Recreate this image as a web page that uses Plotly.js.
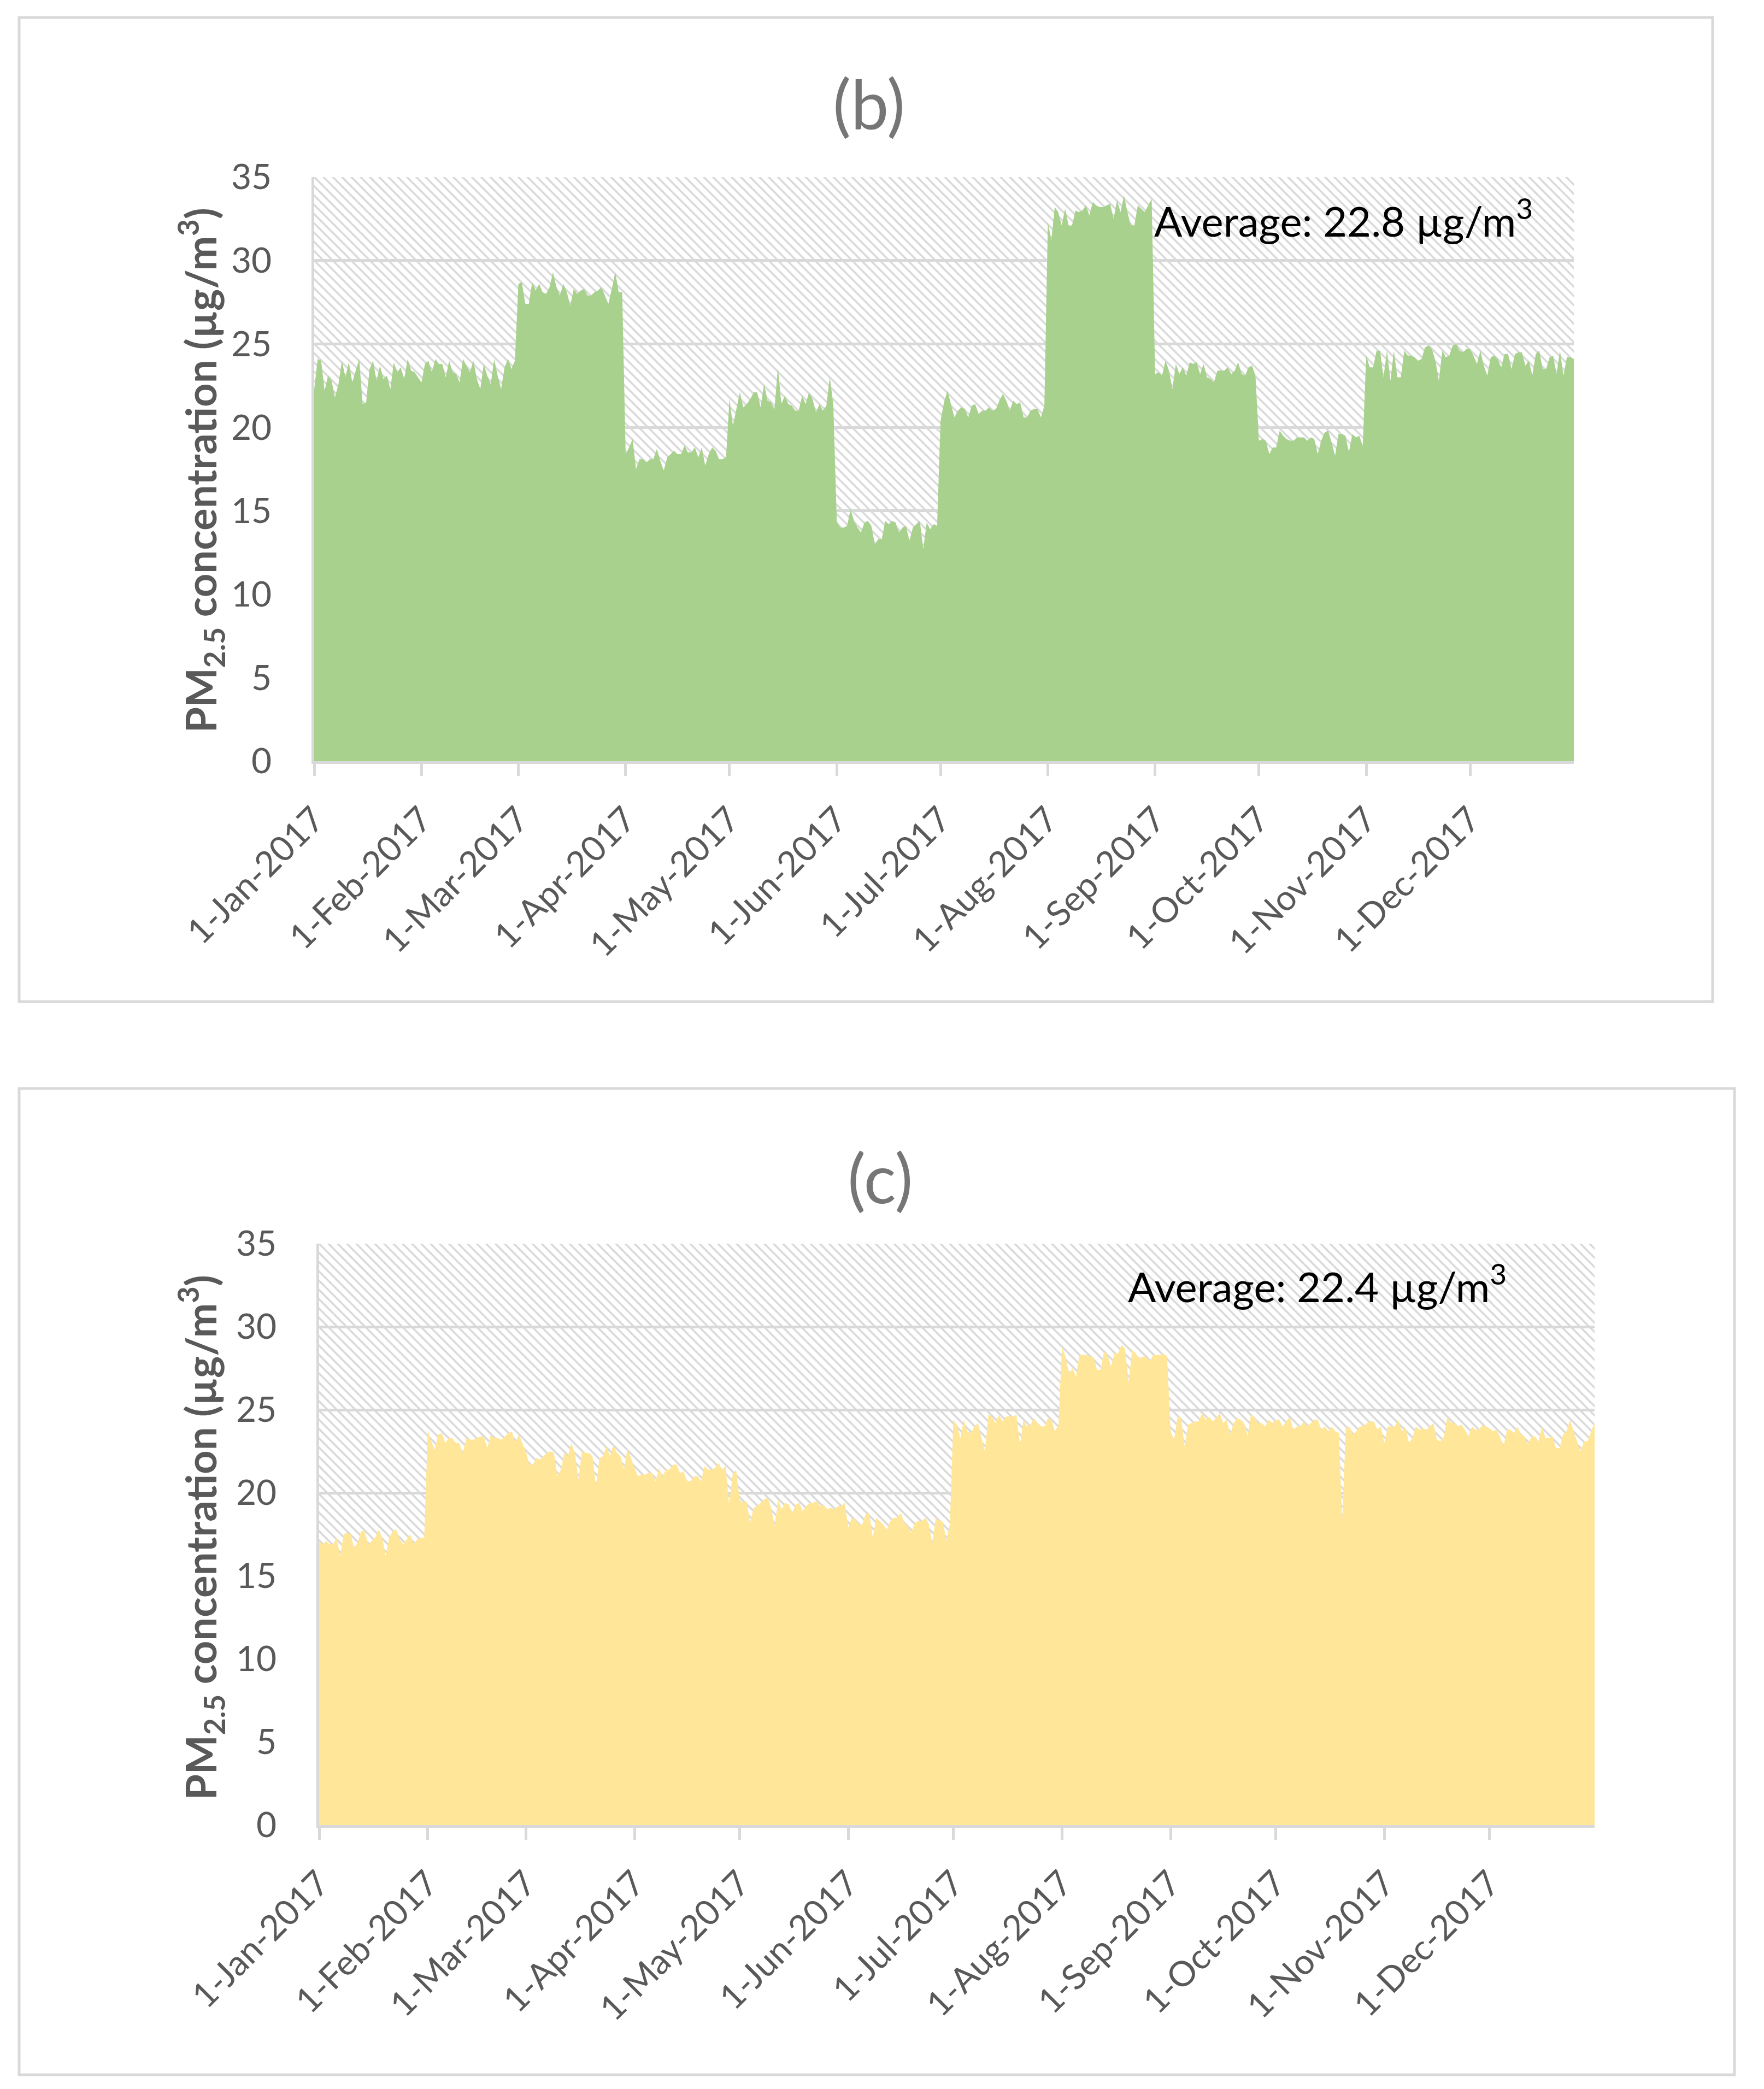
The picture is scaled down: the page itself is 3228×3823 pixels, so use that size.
<!DOCTYPE html>
<html>
<head>
<meta charset="utf-8">
<script src="https://cdn.plot.ly/plotly-3.0.1.min.js"></script>
<style>
html,body{margin:0;padding:0;background:#fff;}
#chart{width:3228px;height:3823px;}
</style>
</head>
<body>
<div id="chart"></div>
<script>
// ---------- DATA ----------
var startDate = [2017, 0, 1];
var tickDates = ['2017-01-01','2017-02-01','2017-03-01','2017-04-01','2017-05-01','2017-06-01',
                 '2017-07-01','2017-08-01','2017-09-01','2017-10-01','2017-11-01','2017-12-01'];
var tickLabels = ['1-Jan-2017','1-Feb-2017','1-Mar-2017','1-Apr-2017','1-May-2017','1-Jun-2017',
                  '1-Jul-2017','1-Aug-2017','1-Sep-2017','1-Oct-2017','1-Nov-2017','1-Dec-2017'];
var yTicks = [0, 5, 10, 15, 20, 25, 30, 35];

// Panel (b) daily PM2.5 (µg/m3)
var pmB = [
 // Jan
 22.3,24.1,24.0,22.2,23.1,22.8,21.8,22.6,24.0,23.0,23.9,22.7,23.4,24.1,21.4,21.5,23.5,24.0,22.8,23.7,22.9,23.1,22.3,23.9,23.3,23.6,22.9,24.1,23.4,23.3,23.0,
 // Feb
 22.7,23.8,24.0,23.3,24.1,23.8,23.8,23.0,24.0,23.3,23.2,22.7,24.1,23.7,23.3,24.0,22.9,22.3,23.8,23.1,22.6,24.1,23.1,22.3,23.6,24.1,23.5,24.0,
 // Mar
 28.6,28.7,27.4,27.4,28.7,28.2,28.6,28.1,28.0,28.4,29.3,28.4,27.9,28.6,28.1,27.3,28.3,28.0,28.2,28.3,27.9,27.9,28.1,28.2,28.4,27.9,27.4,28.3,29.3,28.1,28.1,
 // Apr
 18.4,18.8,19.3,17.5,18.1,18.1,17.9,18.1,18.1,18.7,18.0,17.4,18.2,18.4,18.6,18.4,18.4,18.9,18.5,18.5,18.8,18.2,18.8,17.7,18.4,18.8,18.6,18.1,18.1,18.2,
 // May
 21.7,20.1,21.1,22.1,21.2,21.4,21.7,22.1,22.1,21.2,22.6,21.6,21.5,21.1,23.6,21.4,21.9,21.4,21.3,21.0,21.0,21.9,21.4,22.1,21.7,20.9,21.4,21.0,21.3,23.0,21.4,
 // Jun
 14.4,14.0,14.0,14.1,15.1,14.4,14.0,13.7,14.3,14.4,14.1,13.0,13.3,13.3,14.4,14.2,14.4,14.3,13.7,14.0,14.1,13.2,14.0,14.2,14.4,12.7,14.3,13.9,14.2,14.1,
 // Jul
 20.4,21.5,22.2,21.4,20.6,21.0,21.2,21.1,20.6,21.3,21.4,20.8,21.0,21.0,21.2,21.0,21.1,21.6,22.0,21.6,21.0,21.6,21.4,21.5,20.6,20.6,21.0,21.1,21.1,20.6,21.3,
 // Aug
 32.3,31.2,33.2,32.9,32.1,33.1,32.1,32.1,33.0,32.9,33.0,33.3,32.7,33.5,33.3,33.2,33.2,33.3,33.4,32.5,33.6,32.9,33.9,32.9,32.1,32.1,33.3,33.1,32.9,33.3,33.7,
 // Sep
 23.2,23.3,23.1,24.0,23.4,22.3,23.8,23.2,23.6,23.1,23.9,23.8,23.9,23.2,23.8,23.0,22.9,22.7,23.4,23.4,23.4,23.6,23.2,23.4,23.9,23.2,23.1,23.6,23.7,23.1,
 // Oct
 19.2,19.3,19.2,18.4,18.8,18.8,19.8,19.5,19.3,19.2,19.2,19.4,19.4,19.4,19.2,19.4,19.3,18.4,19.2,19.7,19.8,19.1,18.3,19.6,19.6,19.5,18.5,19.6,19.4,19.5,18.9,
 // Nov
 24.3,23.6,23.6,24.6,24.6,23.0,24.6,22.8,24.6,23.0,23.0,24.6,24.3,24.3,24.2,24.0,24.1,24.8,24.9,24.7,24.0,22.8,24.6,24.2,24.3,24.9,25.0,24.6,24.5,24.7,
 // Dec
 24.7,24.3,23.8,24.6,23.7,23.1,24.2,24.3,24.1,23.6,24.4,24.4,23.5,24.4,24.5,24.5,23.7,24.0,23.1,24.4,24.6,23.5,23.5,24.2,24.3,23.2,24.6,23.1,24.2,24.2,24.1
];

// Panel (c) daily PM2.5 (µg/m3)
var pmC = [
 // Jan
 17.1,16.9,17.1,16.9,16.9,17.3,16.2,17.5,17.6,17.5,16.7,17.0,17.7,17.7,16.9,17.1,17.3,17.8,17.3,16.2,17.3,17.7,17.8,17.2,16.9,17.2,17.5,16.9,17.2,17.3,17.3,
 // Feb
 23.8,23.1,22.6,23.5,23.6,23.0,23.3,23.3,23.0,23.0,22.4,23.3,23.2,23.2,23.3,23.4,23.4,22.7,23.5,23.3,23.3,23.2,23.4,23.6,23.7,23.0,23.5,23.0,
 // Mar
 22.5,21.7,21.7,22.1,22.0,22.2,22.4,22.5,22.4,21.0,21.4,22.4,22.2,23.0,22.4,20.8,22.5,22.4,22.4,22.2,20.4,22.1,22.2,22.8,22.2,22.9,22.4,22.2,21.4,22.7,22.1,
 // Apr
 21.5,21.0,21.1,21.1,21.2,21.2,20.7,21.5,21.0,21.4,21.4,21.7,21.7,21.2,21.3,20.7,20.7,21.0,21.0,20.7,21.6,21.4,21.4,21.5,21.8,21.4,21.6,19.3,21.1,21.4,
 // May
 19.6,19.4,19.5,18.2,19.1,19.2,19.4,19.6,19.7,19.1,18.0,19.6,19.0,19.4,19.3,18.8,19.3,19.4,18.9,19.2,19.4,19.4,19.5,19.2,19.3,19.0,19.1,19.0,19.2,19.2,19.4,
 // Jun
 17.9,18.5,18.4,18.1,18.1,18.7,18.8,17.3,18.5,18.3,18.1,17.8,18.3,18.5,18.5,18.8,18.2,18.0,17.6,18.2,18.3,18.3,18.5,18.1,17.0,18.5,18.3,18.3,17.1,18.1,
 // Jul
 24.4,24.1,23.3,24.4,23.7,23.6,24.0,24.2,23.3,22.5,24.7,24.6,24.2,24.7,24.3,24.6,24.6,24.6,24.7,22.9,24.4,24.0,24.1,24.5,24.2,24.0,24.0,24.5,24.4,23.7,24.1,
 // Aug
 28.8,28.2,27.2,27.5,27.0,28.3,28.3,28.3,28.2,28.2,27.4,27.4,28.5,28.3,27.6,28.4,28.4,28.9,28.7,26.6,28.6,28.4,28.1,28.2,28.2,27.9,28.3,28.3,28.3,28.4,28.2,
 // Sep
 23.7,23.2,24.6,24.5,22.8,24.1,24.2,24.3,24.3,24.8,24.4,24.6,24.3,24.5,24.8,24.2,24.4,23.5,24.2,24.5,24.4,24.2,23.4,24.8,24.5,24.2,24.2,24.0,24.4,24.2,
 // Oct
 24.4,24.4,24.0,24.3,24.6,23.8,24.0,24.0,24.3,24.0,24.2,24.4,24.4,23.8,24.0,23.7,24.0,23.7,23.6,18.4,23.9,24.0,23.5,23.7,24.0,24.0,24.2,24.3,24.3,23.8,24.0,
 // Nov
 23.0,24.0,24.0,24.0,24.4,23.7,24.0,23.0,23.3,24.0,23.8,23.9,23.8,24.0,24.2,23.2,23.1,23.4,24.6,24.2,24.2,24.0,24.1,23.8,23.4,24.0,23.8,23.8,24.1,24.0,
 // Dec
 23.9,23.7,23.8,23.4,22.8,23.8,23.8,23.6,24.0,23.5,23.4,22.9,23.4,23.4,23.1,24.0,23.3,23.3,23.4,22.7,22.7,23.5,23.7,24.4,23.7,23.1,22.5,23.1,23.1,23.7,24.2
];

var panelTitles = ['(b)', '(c)'];
var avgLabels = ['Average: 22.8 µg/m<sup>3</sup>', 'Average: 22.4 µg/m<sup>3</sup>'];
var yTitle = '<b>PM<sub>2.5</sub> concentration (µg/m<sup>3</sup>)</b>';

// ---------- BUILD ----------
function dayDates(n) {
  var out = [];
  for (var i = 0; i < n; i++) {
    var d = new Date(Date.UTC(startDate[0], startDate[1], startDate[2] + i));
    out.push(d.toISOString().slice(0, 10));
  }
  return out;
}
var datesB = dayDates(pmB.length);
var datesC = dayDates(pmC.length);

var W = 3228, H = 3823;
function px(x) { return x / W; }
function py(y) { return 1 - y / H; }

var GRID = '#d9d9d9';
var TXT = '#595959';
var FONT = 'Lato, "Open Sans", sans-serif';

function hatchTrace(dates, xa, ya) {
  return {
    x: [dates[0], dates[dates.length - 1]],
    y: [35, 35],
    xaxis: xa, yaxis: ya,
    type: 'scatter', mode: 'none',
    fill: 'tozeroy',
    fillcolor: 'rgba(255,255,255,0)',
    fillpattern: {shape: '\\', fgcolor: '#d9d9d9', bgcolor: 'rgba(255,255,255,0)', size: 12, solidity: 0.3},
    hoverinfo: 'skip', showlegend: false
  };
}
function areaTrace(dates, vals, color, xa, ya) {
  return {
    x: dates, y: vals, xaxis: xa, yaxis: ya,
    type: 'scatter', mode: 'lines',
    line: {width: 0, color: color},
    fill: 'tozeroy', fillcolor: color,
    showlegend: false
  };
}

var data = [
  hatchTrace(datesB, 'x', 'y'),
  areaTrace(datesB, pmB, '#a9d18e', 'x', 'y'),
  hatchTrace(datesC, 'x2', 'y2'),
  areaTrace(datesC, pmC, '#ffe699', 'x2', 'y2')
];

function xAxis(domain, anchor, dates) {
  return {
    domain: domain, anchor: anchor, type: 'date',
    range: [dates[0], dates[dates.length - 1]],
    tickmode: 'array', tickvals: tickDates, ticktext: tickLabels,
    tickangle: -45,
    ticks: 'outside', ticklen: 22, tickwidth: 5, tickcolor: GRID,
    ticklabelstandoff: 16,
    showline: true, linecolor: GRID, linewidth: 5,
    showgrid: false, zeroline: false,
    tickfont: {family: FONT, size: 64, color: TXT}
  };
}
function yAxis(domain, anchor) {
  return {
    domain: domain, anchor: anchor,
    range: [0, 35], tickmode: 'array', tickvals: yTicks,
    showgrid: true, gridcolor: GRID, gridwidth: 5,
    showline: true, linecolor: GRID, linewidth: 5,
    zeroline: false, ticks: '',
    ticklabelstandoff: 60,
    tickfont: {family: FONT, size: 64, color: TXT}
  };
}

var layout = {
  width: W, height: H,
  margin: {l: 0, r: 0, t: 0, b: 0},
  paper_bgcolor: '#ffffff', plot_bgcolor: 'rgba(0,0,0,0)',
  font: {family: FONT},
  xaxis: xAxis([px(575), px(2880)], 'y', datesB),
  yaxis: yAxis([py(1393), py(324)], 'x'),
  xaxis2: xAxis([px(584), px(2918)], 'y2', datesC),
  yaxis2: yAxis([py(3340), py(2276)], 'x2'),
  shapes: [
    {type: 'rect', xref: 'paper', yref: 'paper', x0: px(35), x1: px(3134), y0: py(1833), y1: py(32),
     line: {color: GRID, width: 5}, fillcolor: 'rgba(0,0,0,0)', layer: 'below'},
    {type: 'rect', xref: 'paper', yref: 'paper', x0: px(35), x1: px(3174), y0: py(3797), y1: py(1992),
     line: {color: GRID, width: 5}, fillcolor: 'rgba(0,0,0,0)', layer: 'below'}
  ],
  annotations: [
    {text: panelTitles[0], xref: 'paper', yref: 'paper', x: px(1590), y: py(188), showarrow: false,
     xanchor: 'center', yanchor: 'middle', font: {family: FONT, size: 124, color: '#767676'}},
    {text: panelTitles[1], xref: 'paper', yref: 'paper', x: px(1611), y: py(2154), showarrow: false,
     xanchor: 'center', yanchor: 'middle', font: {family: FONT, size: 124, color: '#767676'}},
    {text: avgLabels[0], xref: 'paper', yref: 'paper', x: px(2110), y: py(398), showarrow: false,
     xanchor: 'left', yanchor: 'middle', font: {family: FONT, size: 76, color: '#000000'}},
    {text: avgLabels[1], xref: 'paper', yref: 'paper', x: px(2062), y: py(2348), showarrow: false,
     xanchor: 'left', yanchor: 'middle', font: {family: FONT, size: 76, color: '#000000'}},
    {text: yTitle, xref: 'paper', yref: 'paper', x: px(367), y: py(861), showarrow: false, textangle: -90,
     xanchor: 'center', yanchor: 'middle', font: {family: FONT, size: 76, color: TXT}},
    {text: yTitle, xref: 'paper', yref: 'paper', x: px(367), y: py(2814), showarrow: false, textangle: -90,
     xanchor: 'center', yanchor: 'middle', font: {family: FONT, size: 76, color: TXT}}
  ]
};

Plotly.newPlot('chart', data, layout, {displayModeBar: false, staticPlot: true});
</script>
</body>
</html>
